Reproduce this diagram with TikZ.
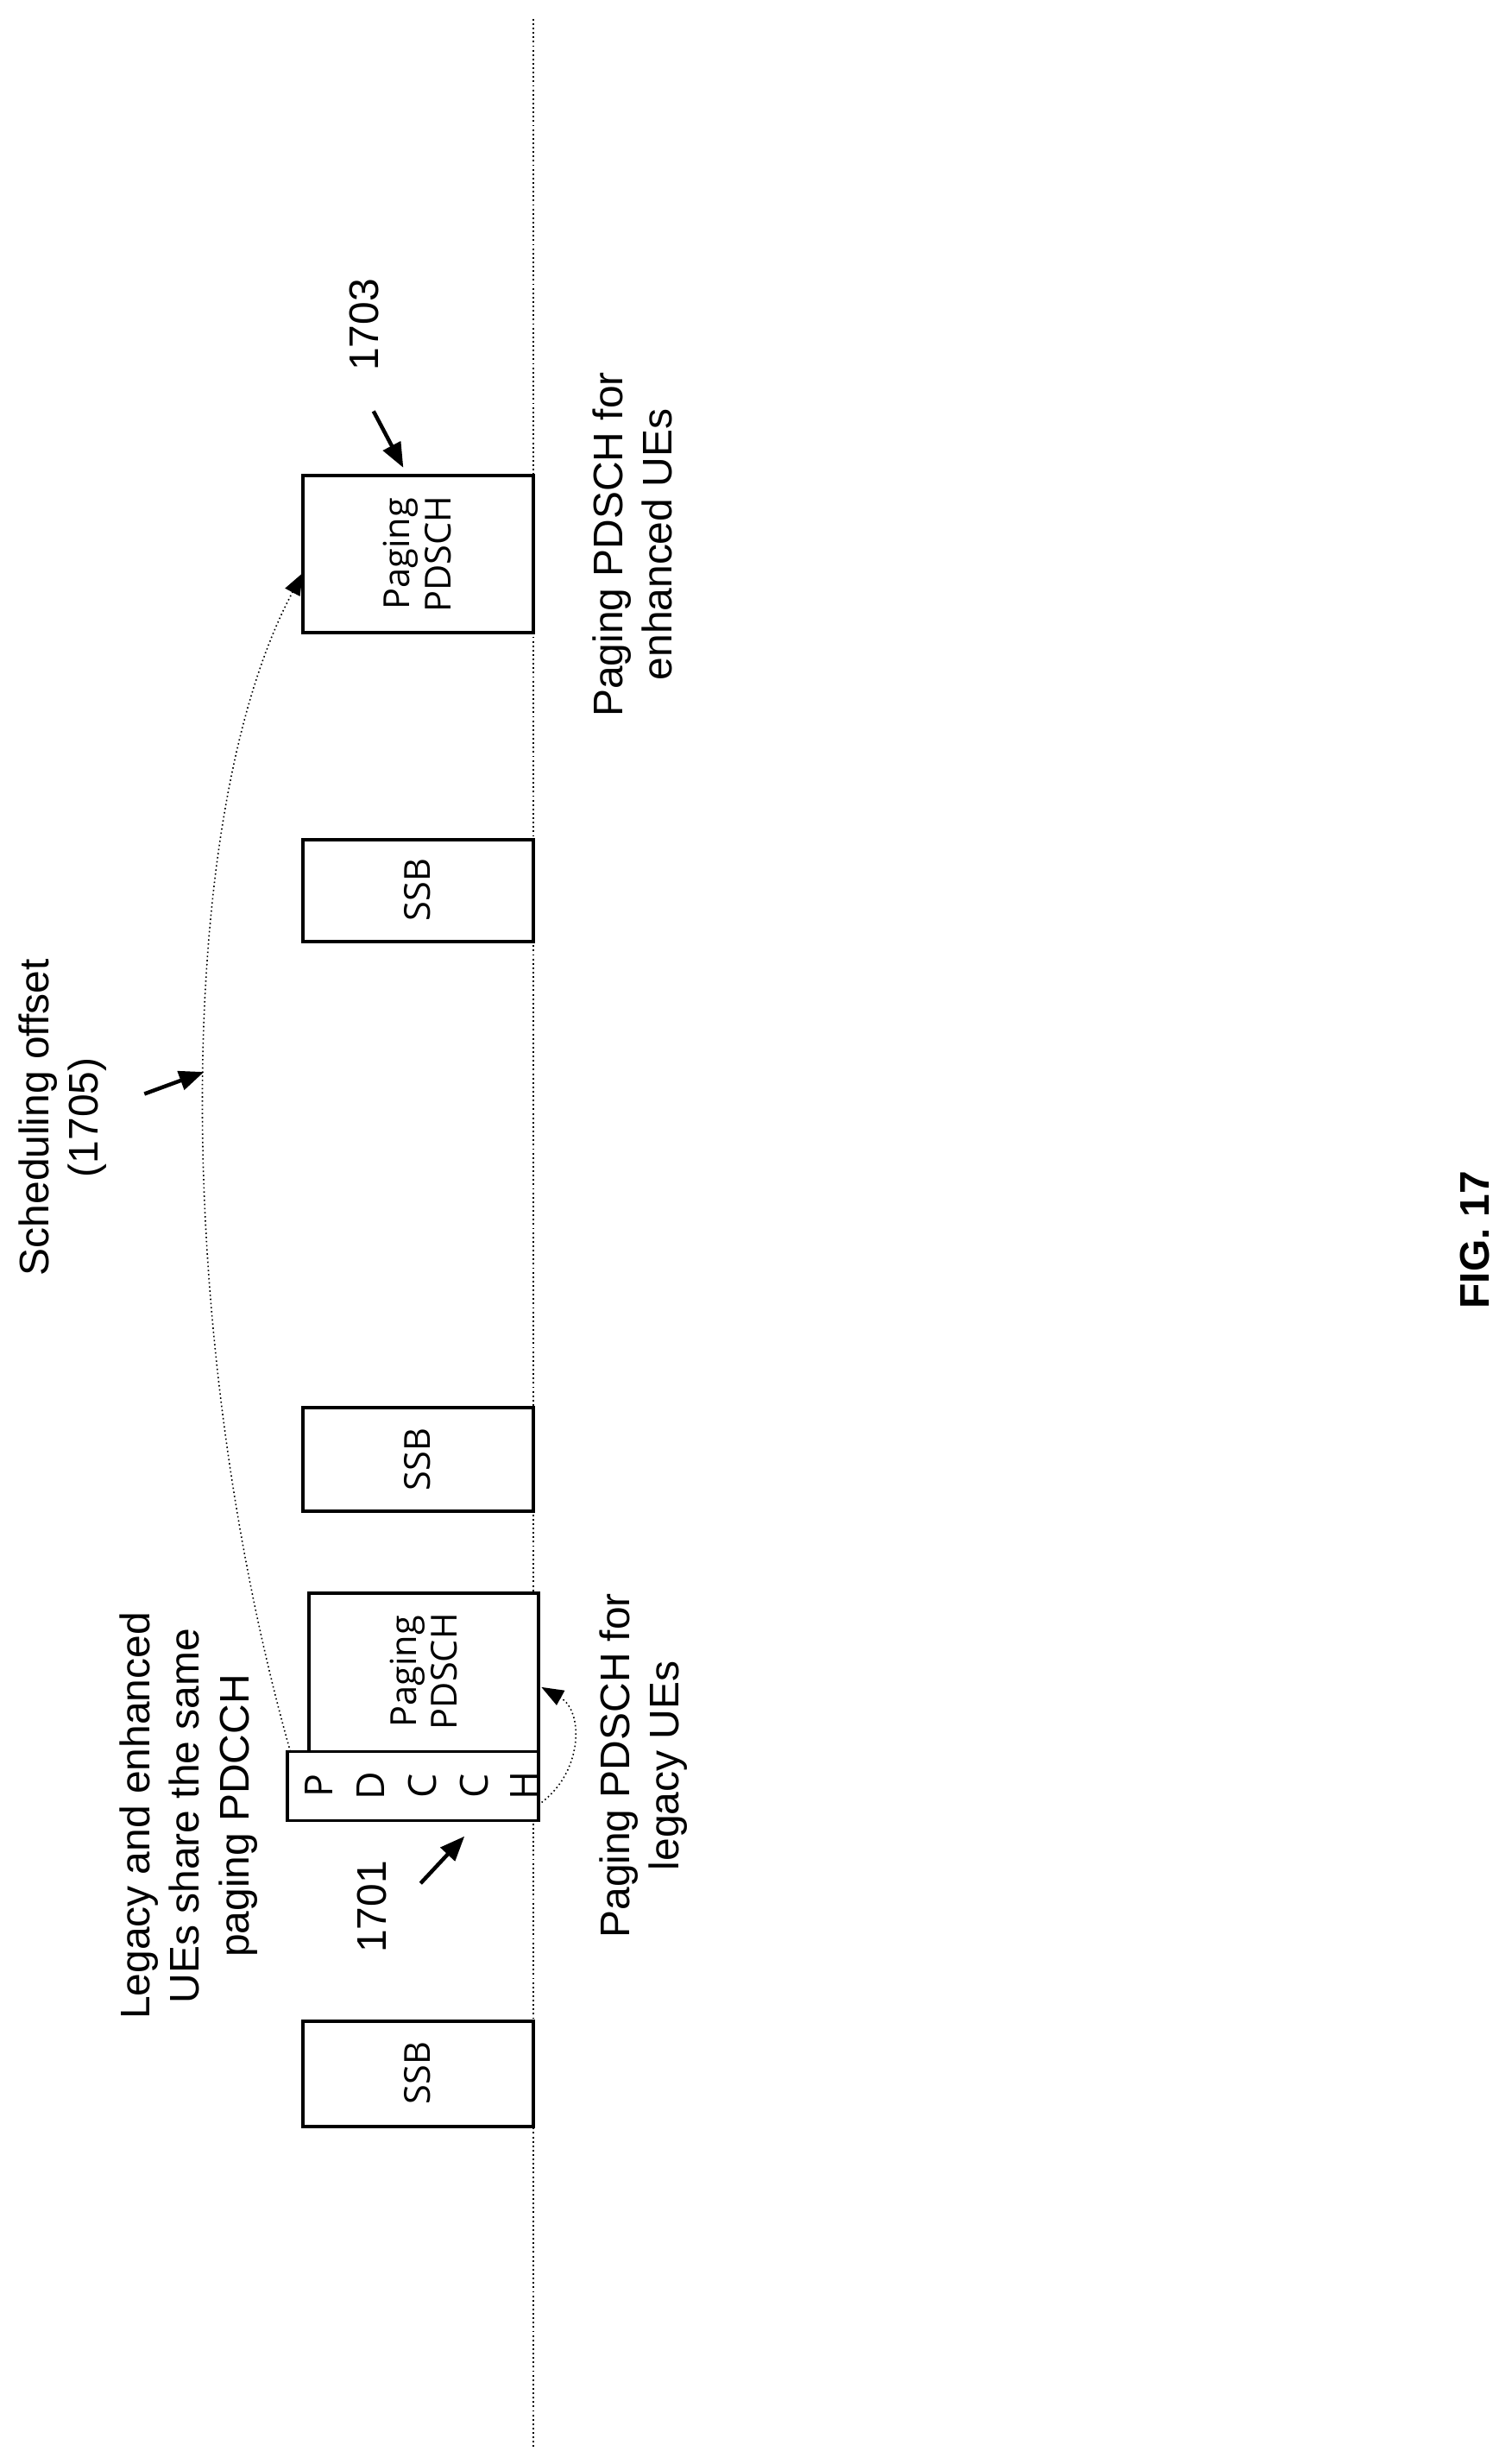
\documentclass[tikz,border=0pt]{standalone}
\usepackage{fontspec}
\setmainfont{Liberation Sans}
\newfontfamily\boxfont{Open Sans}
\usetikzlibrary{arrows.meta}
\begin{document}
\begin{tikzpicture}[x=0.02cm,y=-0.02cm,
  blk/.style={draw,line width=1.2pt,inner sep=0pt},
  btxt/.style={font=\boxfont\fontsize{13}{15}\selectfont,rotate=90,align=center},
  lbl/.style={font=\fontsize{15}{18}\selectfont,rotate=90,align=center},
  ptr/.style={line width=1.4pt,-{Triangle[length=9pt,width=7pt]}},
  curv/.style={densely dotted,line width=0.5pt,-{Triangle[length=8pt,width=6pt]}}]
\useasboundingbox (0,0) rectangle (963,1570);
\coordinate (ltop) at (340,12);
\coordinate (lbot) at (340,1560);
\draw[densely dotted,line width=0.6pt] (ltop) -- (lbot);
% boxes
\draw[blk,fill=white] (193,1288) rectangle (340,1355);
\node[btxt] (ssb1) at (266,1321) {SSB};
\draw[blk,fill=white] (197,1015) rectangle (343,1116);
\node[btxt] (pd1) at (270,1065) {Paging\\PDSCH};
\draw[blk,fill=white] (183,1116) rectangle (343,1160);
\coordinate (pdcchTL) at (185,1116);
\coordinate (pdcchR) at (343,1150);
\coordinate (pd1R) at (345,1075);
\foreach \l/\x in {P/203,D/236,C/269,C/302,H/334}
  \node[btxt,font=\boxfont\fontsize{14}{16}\selectfont] at (\x,1138) {\l};
\draw[blk,fill=white] (193,897) rectangle (340,963);
\node[btxt] (ssb2) at (266,930) {SSB};
\draw[blk,fill=white] (193,535) rectangle (340,600);
\node[btxt] (ssb3) at (266,567) {SSB};
\draw[blk,fill=white] (193,303) rectangle (340,403);
\node[btxt] (pd2) at (266,353) {Paging\\PDSCH};
\coordinate (pd2L) at (193,365);
% curves
\draw[curv] (pdcchTL) .. controls (110,850) and (110,520) .. (pd2L);
\draw[curv] (pdcchR) .. controls (372,1130) and (372,1090) .. (pd1R);
% labels
\node[lbl] (leg) at (120,1157) {Legacy and enhanced\\UEs share the same\\paging PDCCH};
\node[lbl] (n1701) at (237,1215) {1701};
\coordinate (a1s) at (268,1200); \coordinate (a1e) at (296,1170);
\draw[ptr] (a1s) -- (a1e);
\node[lbl] (legu) at (410,1125) {Paging PDSCH for\\legacy UEs};
\node[lbl] (sched) at (40,712) {Scheduling offset\\(1705)};
\coordinate (a5s) at (92,697); \coordinate (a5e) at (130,683);
\draw[ptr] (a5s) -- (a5e);
\node[lbl] (n1703) at (232,207) {1703};
\coordinate (a3s) at (238,262); \coordinate (a3e) at (257,298);
\draw[ptr] (a3s) -- (a3e);
\node[lbl] (enh) at (403,347) {Paging PDSCH for\\enhanced UEs};
\node[lbl,font=\bfseries\fontsize{15}{18}\selectfont] (fig) at (940,790) {FIG. 17};
\end{tikzpicture}
\end{document}
